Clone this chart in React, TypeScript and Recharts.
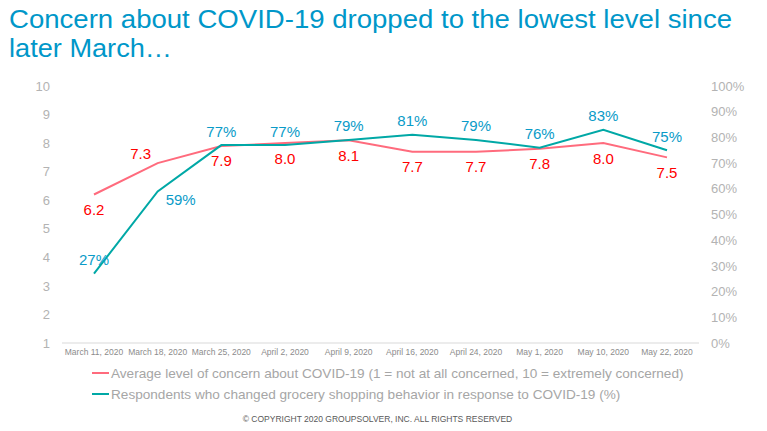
import React from 'react'
import { LineChart, Line, XAxis, YAxis, LabelList } from 'recharts'

const dates = [
  'March 11, 2020',
  'March 18, 2020',
  'March 25, 2020',
  'April 2, 2020',
  'April 9, 2020',
  'April 16, 2020',
  'April 24, 2020',
  'May 1, 2020',
  'May 10, 2020',
  'May 22, 2020',
]
const concern = [6.2, 7.3, 7.9, 8.0, 8.1, 7.7, 7.7, 7.8, 8.0, 7.5]
const changed = [27, 59, 77, 77, 79, 81, 79, 76, 83, 75]

const leftTicks = [1, 2, 3, 4, 5, 6, 7, 8, 9, 10]
const rightTicks = [0, 10, 20, 30, 40, 50, 60, 70, 80, 90, 100]

const concernName =
  'Average level of concern about COVID-19 (1 = not at all concerned, 10 = extremely concerned)'
const changedName =
  'Respondents who changed grocery shopping behavior in response to COVID-19 (%)'

const data = dates.map((d, i) => ({ date: d, concern: concern[i], changed: changed[i] }))

const PINK = '#ff6b7d'
const TEAL = '#00a8a6'
const FONT = 'Arial, "Liberation Sans", sans-serif'

const ConcernLabel = (props: any) => {
  const { x, y, value, index } = props
  let dx = 0
  let dy = 15
  // the second point has its label above the line
  if (index === 1) {
    dx = -17
    dy = -10
  }
  return (
    <text
      x={x + dx}
      y={y + dy}
      textAnchor="middle"
      dominantBaseline="central"
      fill="#ff0000"
      fontSize={15}
      fontFamily={FONT}
    >
      {Number(value).toFixed(1)}
    </text>
  )
}

const ChangedLabel = (props: any) => {
  const { x, y, value, index } = props
  let dx = 0
  let dy = -14
  let anchor: 'middle' | 'start' = 'middle'
  if (index === 1) {
    dx = 8
    dy = 8
    anchor = 'start'
  }
  return (
    <text
      x={x + dx}
      y={y + dy}
      textAnchor={anchor}
      dominantBaseline="central"
      fill="#0a9bc8"
      fontSize={15}
      fontFamily={FONT}
    >
      {value}%
    </text>
  )
}

const LegendRow = ({ color, label, top }: { color: string; label: string; top: number }) => (
  <div
    style={{
      position: 'absolute',
      left: 92,
      top: top - 9,
      height: 18,
      display: 'flex',
      alignItems: 'center',
      whiteSpace: 'nowrap',
    }}
  >
    <div style={{ width: 17, height: 2, background: color, marginRight: 2 }} />
    <span style={{ fontSize: 13.6, color: '#a6a6a6', fontFamily: FONT }}>{label}</span>
  </div>
)

export default function App() {
  return (
    <div
      style={{
        position: 'absolute',
        left: 0,
        top: 0,
        width: 767,
        height: 431,
        background: '#ffffff',
        fontFamily: FONT,
        overflow: 'hidden',
      }}
    >
      <svg width={767} height={75} style={{ position: 'absolute', left: 0, top: 0 }}>
        <text
          x={9}
          y={28}
          fontSize={25}
          fontFamily={FONT}
          fill="#0097c9"
          textLength={723}
          lengthAdjust="spacingAndGlyphs"
        >
          Concern about COVID-19 dropped to the lowest level since
        </text>
        <text
          x={9}
          y={57}
          fontSize={25}
          fontFamily={FONT}
          fill="#0097c9"
          textLength={163}
          lengthAdjust="spacingAndGlyphs"
        >
          later March…
        </text>
      </svg>

      <div style={{ position: 'absolute', left: 0, top: 0 }}>
        <LineChart
          width={767}
          height={431}
          data={data}
          margin={{ top: 86, right: 8, left: 22, bottom: 68 }}
        >
          <XAxis
            dataKey="date"
            interval={0}
            padding={{ left: 32, right: 32 }}
            tickLine={false}
            tickSize={0}
            tickMargin={6}
            axisLine={{ stroke: '#d9d9d9' }}
            tick={{ fontSize: 8.5, fill: '#8c8c8c', fontFamily: FONT }}
            height={20}
          />
          <YAxis
            yAxisId="left"
            domain={[1, 10]}
            ticks={leftTicks}
            interval={0}
            axisLine={false}
            tickLine={false}
            tickSize={0}
            tickMargin={12}
            width={40}
            tick={{ fontSize: 13, fill: '#b3b3b3', fontFamily: FONT }}
          />
          <YAxis
            yAxisId="right"
            orientation="right"
            domain={[0, 100]}
            ticks={rightTicks}
            interval={0}
            axisLine={false}
            tickLine={false}
            tickSize={0}
            tickMargin={12}
            width={60}
            tickFormatter={(v: number) => `${v}%`}
            tick={{ fontSize: 13, fill: '#b3b3b3', fontFamily: FONT, textAnchor: 'start' }}
          />
          <Line
            yAxisId="left"
            type="linear"
            dataKey="concern"
            name={concernName}
            stroke={PINK}
            strokeWidth={2}
            dot={false}
            isAnimationActive={false}
          >
            <LabelList dataKey="concern" content={ConcernLabel} />
          </Line>
          <Line
            yAxisId="right"
            type="linear"
            dataKey="changed"
            name={changedName}
            stroke={TEAL}
            strokeWidth={2}
            dot={false}
            isAnimationActive={false}
          >
            <LabelList dataKey="changed" content={ChangedLabel} />
          </Line>
        </LineChart>
      </div>

      <LegendRow color={PINK} label={concernName} top={373} />
      <LegendRow color={TEAL} label={changedName} top={394} />

      <div
        style={{
          position: 'absolute',
          left: 0,
          width: 767,
          top: 414,
          textAlign: 'center',
          fontSize: 8.5,
          letterSpacing: 0,
          color: '#595959',
          fontFamily: FONT,
          marginLeft: -6,
        }}
      >
        © COPYRIGHT 2020 GROUPSOLVER, INC. ALL RIGHTS RESERVED
      </div>
    </div>
  )
}
